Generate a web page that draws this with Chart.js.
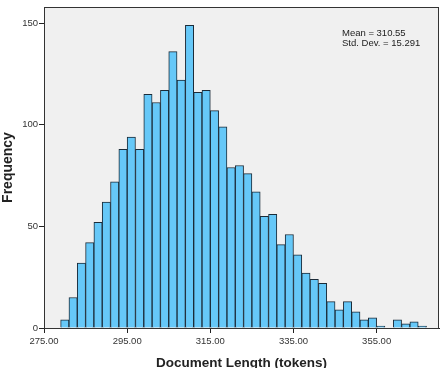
<!DOCTYPE html>
<html>
<head>
<meta charset="utf-8">
<script src="https://cdn.jsdelivr.net/npm/chart.js@4/dist/chart.umd.min.js"></script>
<style>
  html, body { margin: 0; padding: 0; background: #fff; }
  #wrap { width: 441px; height: 368px; position: relative; }
</style>
</head>
<body>
<div id="wrap"><canvas id="canvas"></canvas></div>
<script>
// DATA
var binCenters = [280,282,284,286,288,290,292,294,296,298,300,302,304,306,308,310,312,314,316,318,
                  320,322,324,326,328,330,332,334,336,338,340,342,344,346,348,350,352,354,356,358,
                  360,362,364,366];
var counts = [4,15,32,42,52,62,72,88,94,88,115,111,117,136,122,149,116,117,107,99,
              79,80,76,67,55,56,41,46,36,27,24,22,13,9,13,8,4,5,1,0,
              4,2,3,1];
var xTicks = [275,295,315,335,355];
var yTicks = [0,50,100,150];
var statLines = ['Mean = 310.55', 'Std. Dev. = 15.291'];

var FONT = "'Liberation Sans', Arial, sans-serif";

var points = [];
for (var i = 0; i < binCenters.length; i++) {
  points.push({x: binCenters[i], y: counts[i]});
}

// plot background + frame + stats text
var plotDeco = {
  id: 'plotDeco',
  beforeDatasetsDraw: function(chart) {
    var a = chart.chartArea, ctx = chart.ctx;
    ctx.save();
    ctx.fillStyle = '#f0f0f0';
    ctx.fillRect(a.left, a.top, a.right - a.left, a.bottom - a.top);
    ctx.restore();
  },
  afterDraw: function(chart) {
    var a = chart.chartArea, ctx = chart.ctx;
    ctx.save();
    ctx.strokeStyle = '#333';
    ctx.lineWidth = 1;
    ctx.strokeRect(a.left + 0.5, a.top + 0.5, a.right - a.left - 1, a.bottom - a.top);
    ctx.fillStyle = '#222';
    ctx.font = '9.5px ' + FONT;
    ctx.textBaseline = 'middle';
    ctx.fillText(statLines[0], 342, 33);
    ctx.fillText(statLines[1], 342, 43);
    ctx.restore();
  }
};

var ctx = document.getElementById('canvas').getContext('2d');
var config = {
  type: 'bar',
  data: {
    datasets: [{
      label: 'Frequency',
      data: points,
      backgroundColor: 'rgb(102,200,248)',
      borderColor: '#1b2b38',
      borderWidth: 1,
      barPercentage: 1,
      categoryPercentage: 1,
      grouped: false
    }]
  },
  options: {
    responsive: false,
    animation: false,
    devicePixelRatio: 1,
    layout: { padding: { top: 7, right: 2, left: 0, bottom: 0 } },
    plugins: { legend: { display: false }, tooltip: { enabled: false } },
    scales: {
      x: {
        type: 'linear',
        min: 275,
        max: 370,
        offset: false,
        afterBuildTicks: function(s) { s.ticks = xTicks.map(function(v) { return {value: v}; }); },
        afterFit: function(s) { s.height = 40; },
        grid: { drawOnChartArea: false, offset: false, color: '#222', tickLength: 5 },
        border: { display: true, color: '#222' },
        ticks: {
          color: '#333',
          font: { family: FONT, size: 9.5 },
          padding: 3,
          maxRotation: 0,
          callback: function(v) { return Number(v).toFixed(2); }
        },
        title: {
          display: true,
          text: 'Document Length (tokens)',
          color: '#222',
          font: { family: FONT, size: 13.5, weight: 'bold' },
          padding: { top: 0, bottom: -3 }
        }
      },
      y: {
        min: 0,
        max: 158,
        afterBuildTicks: function(s) { s.ticks = yTicks.map(function(v) { return {value: v}; }); },
        afterFit: function(s) { s.width = 44; },
        grid: { drawOnChartArea: false, color: '#222', tickLength: 5 },
        border: { display: true, color: '#222' },
        ticks: {
          color: '#333',
          font: { family: FONT, size: 9.5 },
          padding: 1
        },
        title: {
          display: true,
          text: 'Frequency',
          color: '#222',
          font: { family: FONT, size: 14, weight: 'bold' },
          padding: { top: 0, bottom: 0 }
        }
      }
    }
  },
  plugins: [plotDeco]
};

var canvas = document.getElementById('canvas');
canvas.width = 441;
canvas.height = 368;
var histChart = new Chart(ctx, config);
</script>
</body>
</html>
